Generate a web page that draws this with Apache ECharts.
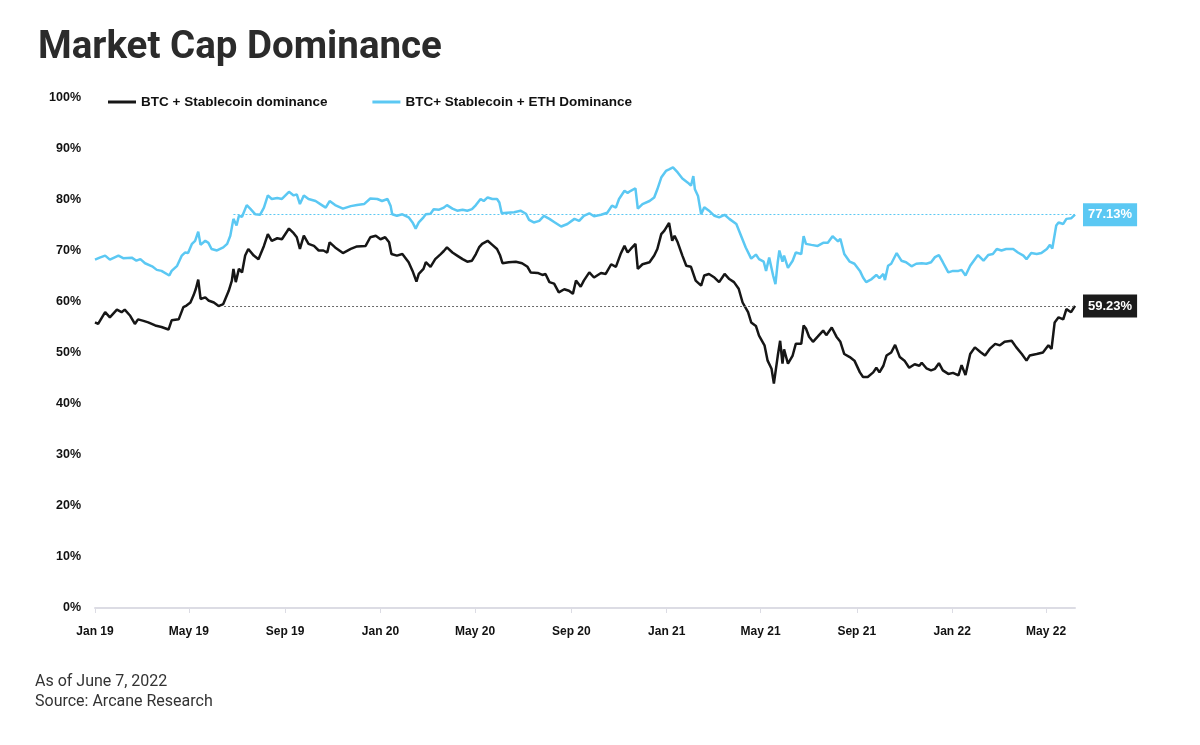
<!DOCTYPE html>
<html>
<head>
<meta charset="utf-8">
<script src="https://cdn.jsdelivr.net/npm/echarts@6/dist/echarts.min.js"></script>
<style>
  html, body { margin: 0; padding: 0; background: #fff; }
  #chart { width: 1200px; height: 745px; }
</style>
</head>
<body>
<div id="chart"></div>
<script>
// x values are days since 2019-01-01 (chart ends on 2022-06-07 = day 1253)
const xTickDays = [0, 120, 243, 365, 486, 609, 731, 851, 974, 1096, 1216];
const xTickLabels = ['Jan 19', 'May 19', 'Sep 19', 'Jan 20', 'May 20', 'Sep 20', 'Jan 21', 'May 21', 'Sep 21', 'Jan 22', 'May 22'];

const seriesNames = ['BTC + Stablecoin dominance', 'BTC+ Stablecoin + ETH Dominance'];

// BTC + Stablecoin dominance (%)
const btcStableDays = [0,4,13,19,28,34,38,45,51,55,62,68,77,85,94,98,107,113,117,122,126,129,132,135,141,145,152,158,164,171,175,177,180,184,188,192,196,203,209,216,221,226,233,239,248,254,258,262,267,273,280,286,292,297,300,307,317,327,335,346,352,359,365,371,376,379,386,393,401,406,411,414,420,423,429,435,442,446,450,457,463,470,476,482,487,491,495,502,508,514,518,521,529,538,546,553,557,566,572,576,581,587,593,600,606,611,615,621,625,632,638,647,653,660,666,672,677,681,685,691,694,700,709,715,719,724,728,734,738,741,745,751,756,762,768,775,779,785,792,798,805,811,817,823,828,835,839,845,849,856,860,865,868,870,873,876,879,881,886,892,896,903,906,909,913,918,924,931,935,942,948,953,958,965,971,978,982,988,995,999,1003,1008,1012,1018,1023,1029,1035,1041,1048,1054,1057,1063,1069,1074,1079,1084,1091,1097,1104,1108,1113,1119,1125,1132,1138,1144,1151,1157,1163,1172,1178,1185,1191,1195,1204,1212,1219,1223,1227,1232,1238,1242,1248,1253];
const btcStableValues = [56.0,55.7,58.0,57.0,58.5,58.0,58.5,57.3,55.7,56.6,56.3,56.0,55.4,55.1,54.6,56.4,56.6,59.0,59.3,59.9,61.3,62.6,64.4,60.6,60.9,60.3,59.9,59.2,59.6,62.2,64.2,66.5,63.9,66.5,65.8,69.1,70.4,69.1,68.4,71.0,73.3,72.0,72.5,72.3,74.4,73.5,72.7,70.4,73.0,71.4,71.0,70.1,70.1,69.7,71.7,70.7,69.6,70.4,70.9,71.0,72.7,73.0,72.3,72.7,71.7,69.4,69.1,69.4,67.8,66.1,64.0,65.5,66.5,67.8,66.9,68.4,69.4,70.0,70.7,69.7,69.1,68.4,67.9,68.1,69.4,70.7,71.4,72.0,71.2,70.4,69.1,67.6,67.8,67.9,67.6,66.9,65.8,65.7,65.3,65.5,63.9,63.6,61.9,62.5,62.2,61.6,64.2,63.0,64.2,65.8,64.8,65.7,65.5,67.4,66.9,69.4,71.0,69.7,70.4,71.4,66.5,67.4,67.8,69.1,70.4,73.3,74.0,75.5,72.0,73.0,71.7,69.1,67.1,66.9,64.2,63.2,65.2,65.5,64.8,63.9,65.5,64.5,63.9,62.6,59.9,58.0,56.0,55.3,53.4,51.5,48.5,46.9,44.0,44.0,49.5,52.4,47.9,50.7,47.9,49.5,51.8,51.8,55.4,54.8,53.2,52.2,53.2,54.4,53.5,55.0,53.2,52.2,49.8,49.2,48.5,46.2,45.3,45.3,46.2,47.1,46.2,47.5,49.5,50.1,51.6,49.2,48.5,47.1,47.8,47.5,48.1,47.0,46.6,46.9,48.0,46.6,45.9,46.1,45.6,47.6,45.7,49.8,51.1,50.2,49.5,50.8,51.8,51.5,52.2,52.4,51.1,49.8,48.5,49.5,49.8,50.1,51.5,50.8,56.0,57.0,56.6,58.6,58.0,59.23];

// BTC + Stablecoin + ETH dominance (%)
const btcStableEthDays = [0,6,13,19,30,36,47,53,58,64,73,79,85,95,98,105,111,115,119,124,128,132,135,141,145,149,156,164,169,173,177,181,184,188,194,199,205,211,216,221,226,233,239,248,254,258,262,267,273,282,290,295,300,307,317,327,335,344,352,361,367,374,378,380,386,393,401,406,410,414,420,423,429,433,440,446,450,457,463,470,476,482,487,493,497,502,508,514,517,520,527,536,544,551,555,561,568,574,581,587,596,604,613,619,625,632,638,647,655,661,666,670,677,681,685,691,694,700,709,715,719,724,730,734,739,745,751,758,762,765,767,771,775,779,785,792,798,805,811,820,826,832,839,845,849,855,858,862,867,870,873,875,879,881,886,892,896,903,906,909,916,924,931,937,943,950,953,958,965,971,978,982,986,993,999,1003,1008,1010,1014,1018,1025,1031,1037,1044,1050,1057,1063,1069,1074,1079,1084,1091,1097,1104,1108,1113,1119,1125,1129,1136,1142,1148,1153,1159,1165,1174,1180,1187,1191,1197,1204,1210,1217,1221,1224,1229,1232,1238,1242,1248,1253];
const btcStableEthValues = [68.3,68.7,69.1,68.3,69.1,68.6,68.7,68.1,68.4,67.6,67.0,66.3,66.1,65.2,66.1,67.1,69.1,69.7,69.6,71.4,72.0,73.8,71.2,72.0,71.6,70.4,70.1,70.7,71.4,73.0,76.3,75.0,76.9,76.7,79.0,78.2,77.2,77.1,78.5,80.9,80.2,80.4,80.2,81.6,80.9,81.1,79.2,80.9,80.2,79.8,79.0,78.5,79.8,79.0,78.3,78.8,79.0,79.2,80.3,80.2,79.8,80.2,78.8,77.2,76.9,77.2,76.6,75.6,74.4,75.6,76.6,77.2,77.3,78.2,78.1,78.5,79.0,78.3,77.9,78.1,77.9,78.2,79.0,80.2,79.8,80.5,80.2,80.2,79.5,77.4,77.5,77.6,77.9,77.3,76.1,75.6,75.9,76.9,76.3,75.7,74.8,75.3,76.3,75.9,76.9,77.4,76.8,77.1,77.5,78.9,78.5,80.2,81.8,81.4,81.8,82.3,78.3,79.2,79.8,80.5,82.1,84.4,85.7,86.0,86.4,85.4,84.2,83.4,82.8,84.7,82.1,80.8,77.2,78.6,77.9,76.9,76.6,77.1,76.3,75.3,73.0,70.7,68.5,69.3,68.4,67.9,66.1,68.7,65.2,63.5,67.9,70.1,67.9,69.1,66.7,68.1,69.7,69.4,72.9,71.4,71.2,71.0,71.6,71.6,72.9,71.9,72.4,69.4,67.9,67.5,66.1,64.8,63.9,64.5,65.3,64.7,65.5,64.3,67.1,67.5,69.6,68.1,67.8,67.0,67.5,67.6,67.5,67.8,68.8,69.2,67.8,65.8,66.1,66.1,66.3,65.2,67.1,68.4,69.2,68.1,69.2,69.4,70.4,70.1,70.4,70.4,69.7,69.1,68.4,69.6,69.4,69.6,70.4,71.2,70.5,75.0,75.6,75.3,76.3,76.4,77.13];

// reference lines at the latest values
const latestLevels = [59.23, 77.13];
const levelStartDays = [165, 177];
const endDay = 1253;

const yTicks = { min: 0, max: 100, interval: 10 };

function pairs(xs, ys) { return xs.map((d, i) => [d, ys[i]]); }

const FONT = 'Arial, "Liberation Sans", sans-serif';
const BLACK = '#161616';
const BLUE = '#5bc8f3';

const chart = echarts.init(document.getElementById('chart'), null, { renderer: 'canvas' });

function levelMarkLine(level, startDay, color, lineColor) {
  return {
    silent: true,
    symbol: ['none', 'none'],
    animation: false,
    lineStyle: { color: lineColor, type: [2, 2], width: 1 },
    label: {
      show: true,
      position: 'end',
      formatter: level.toFixed(2) + '%',
      color: '#fff',
      backgroundColor: color,
      fontFamily: FONT,
      fontWeight: 'bold',
      fontSize: 13,
      padding: [5, 5, 5, 5],
      distance: 8
    },
    data: [[{ coord: [startDay, level] }, { coord: [endDay, level] }]]
  };
}

chart.setOption({
  animation: false,
  backgroundColor: '#fff',
  title: {
    text: 'Market Cap Dominance',
    left: 33,
    top: 24,
    textStyle: { fontFamily: 'Roboto, sans-serif', fontWeight: 'bold', fontSize: 38.5, color: '#2b2b2b' }
  },
  legend: {
    left: 103,
    top: 90,
    icon: 'rect',
    itemWidth: 28,
    itemHeight: 3,
    itemGap: 45,
    textStyle: { fontFamily: FONT, fontWeight: 'bold', fontSize: 13.5, color: '#111' },
    data: seriesNames
  },
  grid: { left: 95, right: 125, top: 98, bottom: 137, containLabel: false },
  xAxis: {
    type: 'value',
    min: 0,
    max: endDay,
    splitLine: { show: false },
    axisLine: { show: true, lineStyle: { color: '#dcdce4', width: 2 } },
    axisTick: { show: true, customValues: xTickDays, length: 5, lineStyle: { color: '#dcdce4', width: 1 } },
    axisLabel: {
      customValues: xTickDays,
      formatter: v => xTickLabels[xTickDays.indexOf(v)] || '',
      fontFamily: FONT, fontWeight: 'bold', fontSize: 12, color: '#111', margin: 18
    }
  },
  yAxis: {
    type: 'value',
    min: yTicks.min,
    max: yTicks.max,
    interval: yTicks.interval,
    splitLine: { show: false },
    axisLine: { show: false },
    axisTick: { show: false },
    axisLabel: { formatter: '{value}%', fontFamily: FONT, fontWeight: 'bold', fontSize: 12.5, color: '#111', margin: 14 }
  },
  graphic: [
    { type: 'text', left: 35, top: 674, style: { text: 'As of June 7, 2022', font: '16px Roboto, sans-serif', fill: '#333' } },
    { type: 'text', left: 35, top: 694, style: { text: 'Source: Arcane Research', font: '16px Roboto, sans-serif', fill: '#333' } }
  ],
  series: [
    {
      name: seriesNames[0],
      type: 'line',
      data: pairs(btcStableDays, btcStableValues),
      showSymbol: false,
      color: BLACK,
      lineStyle: { color: BLACK, width: 2.5 },
      z: 3,
      markLine: levelMarkLine(latestLevels[0], levelStartDays[0], '#1b1b1b', '#6a6a6a')
    },
    {
      name: seriesNames[1],
      type: 'line',
      data: pairs(btcStableEthDays, btcStableEthValues),
      showSymbol: false,
      color: BLUE,
      lineStyle: { color: BLUE, width: 2.5 },
      z: 2,
      markLine: levelMarkLine(latestLevels[1], levelStartDays[1], BLUE, BLUE)
    }
  ]
});
</script>
</body>
</html>
